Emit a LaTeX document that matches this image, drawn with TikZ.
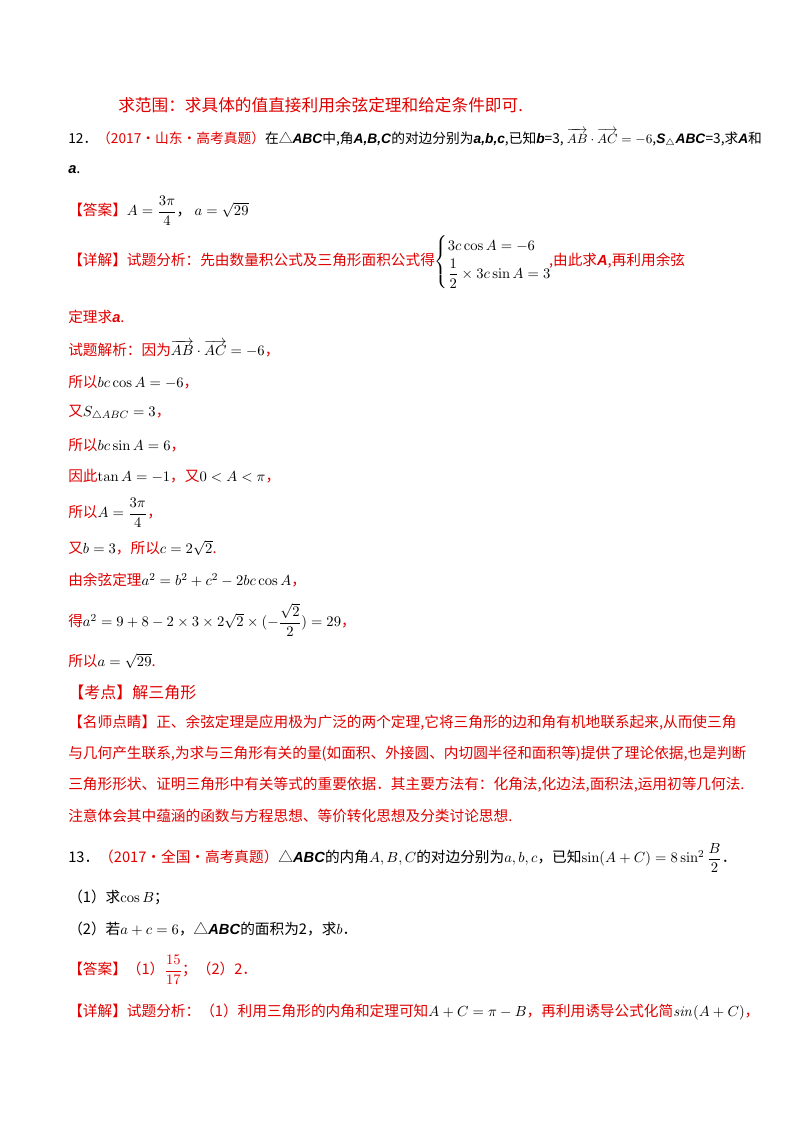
\documentclass[tikz,border=0pt]{standalone}
\usepackage{amsmath}
\usepackage[no-math]{fontspec}
\setmainfont{Noto Sans CJK SC}[ItalicFont={Liberation Sans Bold Italic}]
\definecolor{rd}{HTML}{E00000}
\tikzset{ln/.style={anchor=west,inner sep=0pt,font=\fontsize{11}{13}\selectfont}}
\begin{document}
\begin{tikzpicture}[x=0.75pt,y=-0.75pt]
\useasboundingbox[fill=white] (0,0) rectangle (800,1132);
\node[ln,text=rd,font=\fontsize{12.5}{14}\selectfont] (l0) at (118,105) {求范围：求具体的值直接利用余弦定理和给定条件即可.};
\node[ln,font=\fontsize{10.3}{13}\selectfont] (l1) at (68,138) {12．\textcolor{rd}{（2017·山东·高考真题）}在△\textit{ABC}中,角\textit{A,B,C}的对边分别为\textit{a,b,c},已知\textit{b}=3, $\overrightarrow{AB}\cdot\overrightarrow{AC}=-6$,\textit{S}$_\triangle$\textit{ABC}=3,求\textit{A}和};
\node[ln] (l2) at (68,170) {\textit{a}.};
\node[ln] (l3) at (68,211) {\textcolor{rd}{【答案】}$A=\dfrac{3\pi}{4}$，\ $a=\sqrt{29}$};
\node[ln] (l4) at (68,262) {\textcolor{rd}{【详解】试题分析：先由数量积公式及三角形面积公式得}$\begin{cases}3c\cos A=-6\\[2pt] \dfrac12\times3c\sin A=3\end{cases}$\hspace{-1.2em}\textcolor{rd}{,由此求\textit{A},再利用余弦}};
\node[ln,text=rd] (l5) at (68,317) {定理求\textit{a}.};
\node[ln] (l6) at (68,349) {\textcolor{rd}{试题解析：因为}$\overrightarrow{AB}\cdot\overrightarrow{AC}=-6$\textcolor{rd}{，}};
\node[ln] (l7) at (68,382) {\textcolor{rd}{所以}$bc\cos A=-6$\textcolor{rd}{，}};
\node[ln] (l8) at (68,413) {\textcolor{rd}{又}$S_{\triangle ABC}=3$\textcolor{rd}{，}};
\node[ln] (l9) at (68,445) {\textcolor{rd}{所以}$bc\sin A=6$\textcolor{rd}{，}};
\node[ln] (l10) at (68,476) {\textcolor{rd}{因此}$\tan A=-1$\textcolor{rd}{，又}$0<A<\pi$\textcolor{rd}{，}};
\node[ln] (l11) at (68,513) {\textcolor{rd}{所以}$A=\dfrac{3\pi}{4}$\textcolor{rd}{，}};
\node[ln] (l12) at (68,548) {\textcolor{rd}{又}$b=3$\textcolor{rd}{，所以}$c=2\sqrt2$\textcolor{rd}{.}};
\node[ln] (l13) at (68,580) {\textcolor{rd}{由余弦定理}$a^2=b^2+c^2-2bc\cos A$\textcolor{rd}{，}};
\node[ln] (l14) at (68,620) {\textcolor{rd}{得}$a^2=9+8-2\times3\times2\sqrt2\times(-\dfrac{\sqrt2}{2})=29$\textcolor{rd}{，}};
\node[ln] (l15) at (68,661) {\textcolor{rd}{所以}$a=\sqrt{29}$\textcolor{rd}{.}};
\node[ln,text=rd,font=\fontsize{12}{14}\selectfont] (l16) at (68,692) {【考点】解三角形};
\node[ln,text=rd] (l17) at (68,723) {【名师点睛】正、余弦定理是应用极为广泛的两个定理,它将三角形的边和角有机地联系起来,从而使三角};
\node[ln,text=rd] (l18) at (68,754) {与几何产生联系,为求与三角形有关的量(如面积、外接圆、内切圆半径和面积等)提供了理论依据,也是判断};
\node[ln,text=rd] (l19) at (68,785) {三角形形状、证明三角形中有关等式的重要依据．其主要方法有：化角法,化边法,面积法,运用初等几何法.};
\node[ln,text=rd] (l20) at (68,816) {注意体会其中蕴涵的函数与方程思想、等价转化思想及分类讨论思想.};
\node[ln] (l21) at (68,858) {13．\textcolor{rd}{（2017·全国·高考真题）}△\textit{ABC}的内角$A,B,C$的对边分别为$a,b,c$，已知$\sin(A+C)=8\sin^2\dfrac B2$．};
\node[ln] (l22) at (68,897) {（1）求$\cos B$；};
\node[ln] (l23) at (68,929) {（2）若$a+c=6$，△\textit{ABC}的面积为2，求$b$．};
\node[ln] (l24) at (68,970) {\textcolor{rd}{【答案】（1）$\dfrac{15}{17}$；（2）2．}};
\node[ln] (l25) at (68,1012) {\textcolor{rd}{【详解】试题分析：（1）利用三角形的内角和定理可知}$A+C=\pi-B$\textcolor{rd}{，再利用诱导公式化简}$\mathit{sin}(A+C)$\textcolor{rd}{，}};
\end{tikzpicture}
\end{document}
